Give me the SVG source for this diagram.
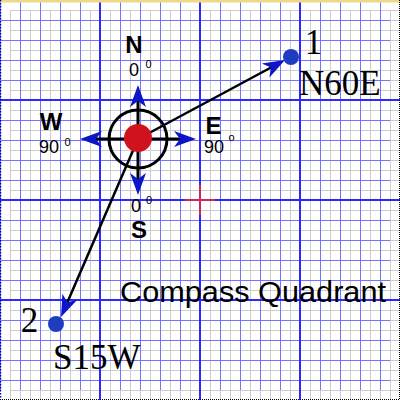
<svg xmlns="http://www.w3.org/2000/svg" xmlns:xlink="http://www.w3.org/1999/xlink" width="400" height="400" viewBox="0 0 400 400">
<style>
.g1{stroke:#cdcdcd;stroke-width:1}
.g2{stroke:#7474ff;stroke-width:1}
.g3{stroke:#2a2aff;stroke-width:2}
.ah{fill:#0c16c4}
.dot{fill:#1e3cc0}
.blk{stroke:#000;stroke-width:3;fill:none}
.con{stroke:#000;stroke-width:2.5;fill:none}
.dir{font-family:"Liberation Sans",Arial,sans-serif;font-weight:bold;font-size:24px;fill:#000}
.deg{font-family:"Liberation Sans",Arial,sans-serif;font-size:18px;fill:#000}
.sup{font-family:"Liberation Sans",Arial,sans-serif;font-size:11px;fill:#000}
.ser{font-family:"Liberation Serif","Times New Roman",serif;font-size:35px;fill:#000}
.ttl{font-family:"Liberation Sans",Arial,sans-serif;font-size:29px;fill:#000}
</style>
<defs>
<path id="ahp" d="M0,0 L-22,-8 L-16,0 L-22,8 Z"/>
<pattern id="p10" width="10" height="10" patternUnits="userSpaceOnUse">
<path d="M0.5,0 V10 M0,0.5 H10" class="g1"/>
</pattern>
<pattern id="p20" width="20" height="20" patternUnits="userSpaceOnUse">
<path d="M0.5,0 V20 M0,0.5 H20" class="g2"/>
</pattern>
</defs>
<g id="grid">
<rect width="400" height="400" fill="#fff"/>
<rect x="0" y="0" width="400" height="400" fill="url(#p10)" transform="translate(10,10)"/>
<rect x="-10" y="-10" width="400" height="400" fill="url(#p20)"/>
<path d="M100,0 V400 M200,0 V400 M300,0 V400 M0,100 H400 M0,200 H400 M0,300 H400" class="g3"/>
<rect x="0" y="0" width="400" height="2.5" fill="#ecd98a"/>
<path d="M0.5,0 V400" stroke="#0000b0" stroke-width="1.5" stroke-dasharray="1.5,1.5"/>
<path d="M399.5,0 V400 M0,399.5 H400" stroke="#000" stroke-width="1" stroke-dasharray="1,1"/>
<path d="M185,200 H215 M200,185 V215" stroke="#ff2a2a" stroke-width="1.5"/>
</g>
<g id="compass">
<circle cx="138" cy="139" r="29" class="blk" stroke-width="4"/>
<path d="M94,139 H181 M138,100 V180" class="blk"/>
<use xlink:href="#ahp" class="ah" transform="translate(196,139)"/>
<use xlink:href="#ahp" class="ah" transform="translate(80,139) rotate(180)"/>
<use xlink:href="#ahp" class="ah" transform="translate(138,85) rotate(-90)"/>
<use xlink:href="#ahp" class="ah" transform="translate(138,195) rotate(90)"/>
</g>
<g id="connectors">
<path d="M138,139 L271,67.5" class="con"/>
<use xlink:href="#ahp" class="ah" transform="translate(285,60) rotate(-28.3)"/>
<path d="M138,139 L67.4,302.3" class="con"/>
<use xlink:href="#ahp" class="ah" transform="translate(61,317) rotate(113.4)"/>
</g>
<g id="center">
<circle cx="138" cy="138" r="14" fill="#d0121e"/>
</g>
<g id="label-n">
<text class="dir" x="134" y="53" text-anchor="middle">N</text>
<text class="deg" x="129" y="76">0</text>
<text class="sup" x="145.5" y="68">0</text>
</g>
<g id="label-w">
<text class="dir" x="51" y="130" text-anchor="middle">W</text>
<text class="deg" x="39" y="153">90</text>
<text class="sup" x="64.5" y="146">0</text>
</g>
<g id="label-e">
<text class="dir" x="205.5" y="134">E</text>
<text class="deg" x="204" y="153">90</text>
<text class="sup" x="228.5" y="141" font-size="13">o</text>
</g>
<g id="label-s">
<text class="dir" x="139" y="238" text-anchor="middle">S</text>
<text class="deg" x="131" y="212">0</text>
<text class="sup" x="146" y="203.5">0</text>
</g>
<g id="point1">
<circle cx="291" cy="57" r="8" class="dot"/>
<text class="ser" x="313.5" y="54" text-anchor="middle">1</text>
<text class="ser" x="299" y="95" font-size="34">N60E</text>
</g>
<g id="point2">
<circle cx="56" cy="324" r="8" class="dot"/>
<text class="ser" x="29.5" y="332" text-anchor="middle">2</text>
<text class="ser" x="53" y="369">S15W</text>
</g>
<g id="title">
<text class="ttl" x="120" y="301.7" textLength="266" lengthAdjust="spacingAndGlyphs">Compass Quadrant</text>
</g>
</svg>
